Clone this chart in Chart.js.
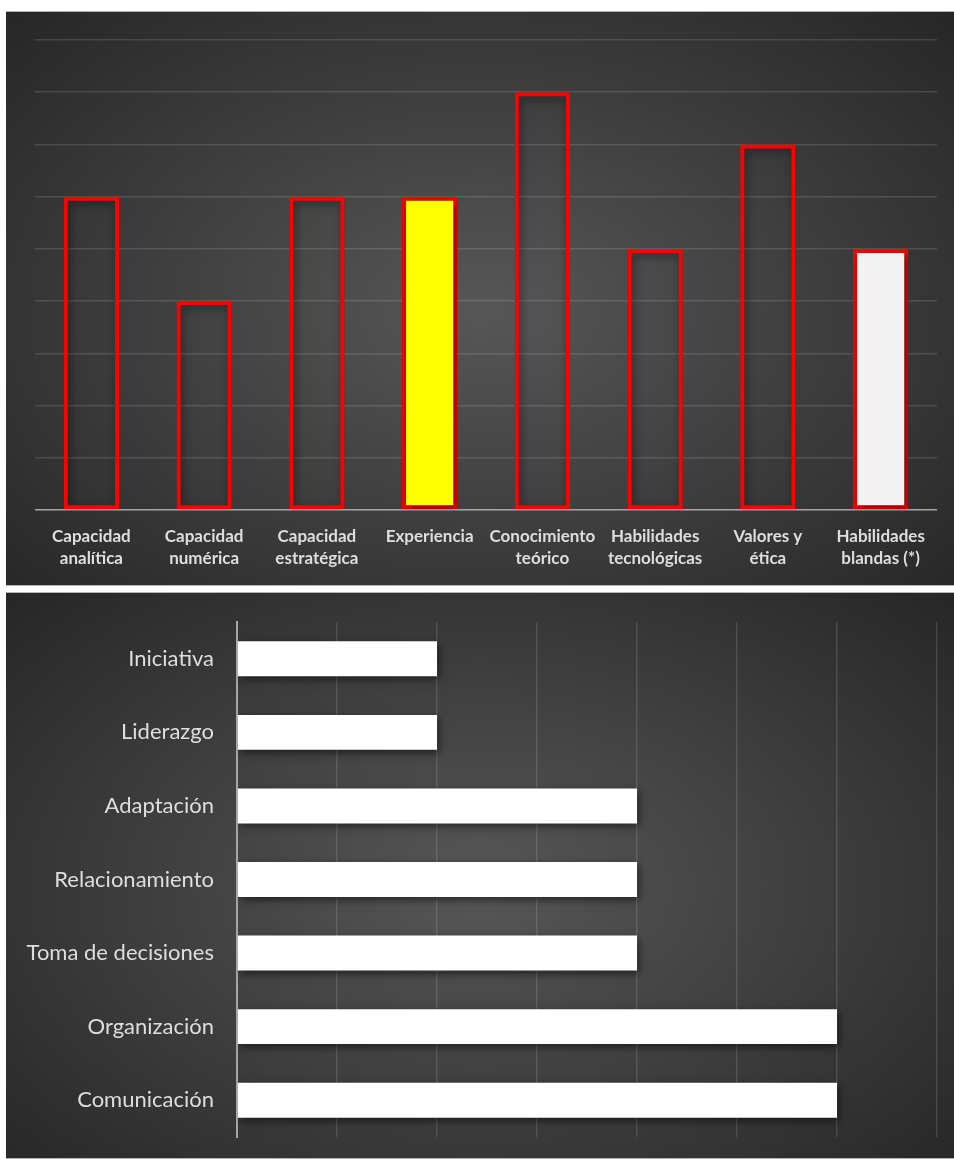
<!DOCTYPE html>
<html>
<head>
<meta charset="utf-8">
<script src="https://cdn.jsdelivr.net/npm/chart.js@4.4.1/dist/chart.umd.min.js"></script>
<style>
  html, body { margin: 0; padding: 0; background: #ffffff; }
  .panel {
    position: absolute; left: 6px; width: 948px;
    background: radial-gradient(ellipse 70% 75% at 50% 52%, #575757 0%, #3c3c3c 55%, #262626 100%);
    border-top: 1px solid #b4b4b4; border-bottom: 1px solid #b4b4b4;
    box-sizing: border-box;
  }
  #topPanel { top: 11px; height: 575px; }
  #bottomPanel { top: 592px; height: 567px; }
</style>
</head>
<body>
<div class="panel" id="topPanel"><canvas id="competencias"></canvas></div>
<div class="panel" id="bottomPanel"><canvas id="blandas"></canvas></div>
<script>
// --- data: competencias (top chart) ---
const competencias = [
  ['Capacidad', 'analítica'],
  ['Capacidad', 'numérica'],
  ['Capacidad', 'estratégica'],
  'Experiencia',
  ['Conocimiento', 'teórico'],
  ['Habilidades', 'tecnológicas'],
  ['Valores y', 'ética'],
  ['Habilidades', 'blandas (*)']
];
const competenciasValues = [6, 4, 6, 6, 8, 5, 7, 5];
const competenciasFill = ['transparent', 'transparent', 'transparent', '#ffff00', 'transparent', 'transparent', 'transparent', '#f2f2f2'];

// --- data: habilidades blandas (bottom chart) ---
const habilidades = ['Iniciativa', 'Liderazgo', 'Adaptación', 'Relacionamiento', 'Toma de decisiones', 'Organización', 'Comunicación'];
const habilidadesValues = [2, 2, 4, 4, 4, 6, 6];

const labelColor = '#dedede';
const gridColor = 'rgba(255,255,255,0.13)';

// soft drop shadow under the bars
const barShadow = {
  id: 'barShadow',
  beforeDatasetsDraw(chart) {
    const ctx = chart.ctx;
    ctx.save();
    ctx.shadowColor = 'rgba(0,0,0,0.55)';
    ctx.shadowBlur = 8;
    ctx.shadowOffsetX = 2;
    ctx.shadowOffsetY = 3;
  },
  afterDatasetsDraw(chart) { chart.ctx.restore(); }
};

// --- 1. TOP CHART ---
new Chart(document.getElementById('competencias'), {
  type: 'bar',
  data: {
    labels: competencias,
    datasets: [{
      data: competenciasValues,
      backgroundColor: competenciasFill,
      borderColor: '#ff0000',
      borderWidth: 4,
      borderSkipped: false,
      barPercentage: 0.49,
      categoryPercentage: 1
    }]
  },
  options: {
    responsive: true,
    maintainAspectRatio: false,
    animation: false,
    layout: { padding: { top: 28, left: 29, right: 17, bottom: 0 } },
    plugins: { legend: { display: false }, tooltip: { enabled: false } },
    scales: {
      x: {
        grid: { display: false },
        border: { display: false },
        ticks: {
          color: labelColor,
          maxRotation: 0,
          autoSkip: false,
          padding: 7,
          font: { family: 'Lato', size: 17, weight: 'bold', lineHeight: 1.3 }
        },
        afterFit(scale) { scale.height = 75; scale.paddingLeft = 0; scale.paddingRight = 0; }
      },
      y: {
        min: 0, max: 9,
        ticks: { display: false, stepSize: 1 },
        border: { display: false },
        grid: {
          drawTicks: false,
          lineWidth: 1.5,
          color: ctx => ctx.tick && ctx.tick.value === 0 ? '#a6a6a6' : gridColor
        },
        afterFit(scale) { scale.width = 0; }
      }
    }
  },
  plugins: [barShadow]
});

// --- 2. BOTTOM CHART ---
new Chart(document.getElementById('blandas'), {
  type: 'bar',
  data: {
    labels: habilidades,
    datasets: [{
      data: habilidadesValues,
      backgroundColor: '#ffffff',
      borderWidth: 0,
      barPercentage: 0.475,
      categoryPercentage: 1
    }]
  },
  options: {
    indexAxis: 'y',
    responsive: true,
    maintainAspectRatio: false,
    animation: false,
    layout: { padding: { top: 29, left: 0, right: 17, bottom: 21 } },
    plugins: { legend: { display: false }, tooltip: { enabled: false } },
    scales: {
      x: {
        min: 0, max: 7,
        ticks: { display: false, stepSize: 1 },
        border: { display: false },
        grid: { drawTicks: false, lineWidth: 1.5, color: gridColor },
        afterFit(scale) { scale.height = 0; scale.paddingLeft = 0; scale.paddingRight = 0; }
      },
      y: {
        grid: { display: false, drawTicks: false },
        border: { display: true, color: '#a6a6a6', width: 2 },
        ticks: {
          color: labelColor,
          padding: 23,
          font: { family: 'Lato', size: 22 }
        },
        afterFit(scale) { scale.width = 231; scale.paddingTop = 0; scale.paddingBottom = 0; }
      }
    }
  },
  plugins: [barShadow]
});
</script>
</body>
</html>
